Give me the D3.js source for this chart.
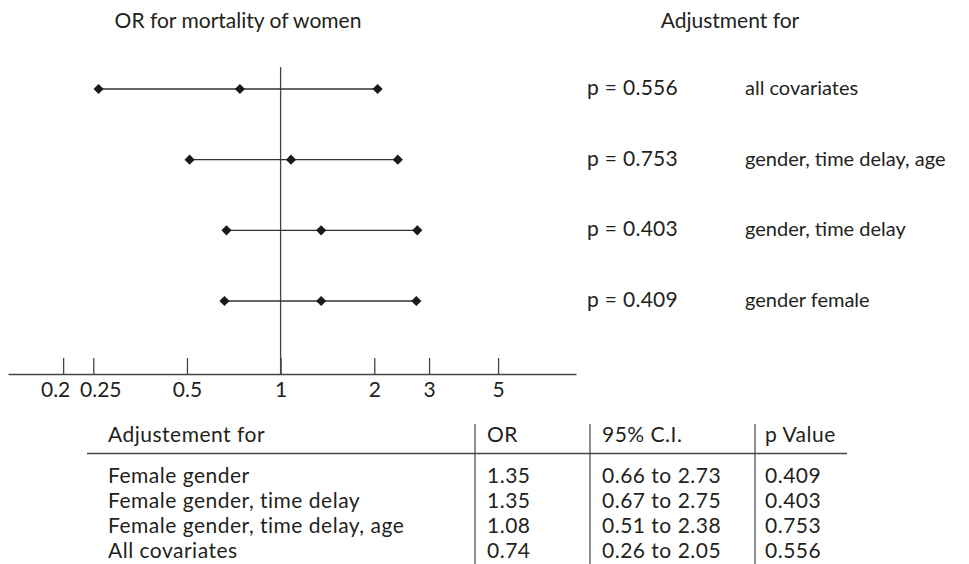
<!DOCTYPE html>
<html>
<head>
<meta charset="utf-8">
<script src="https://cdn.jsdelivr.net/npm/d3@7"></script>
<style>
  body { margin: 0; background: #fff; }
  svg { display: block; font-family: Lato, "Open Sans", sans-serif; }
  text { fill: #231f20; }
</style>
</head>
<body>
<svg id="chart" width="969" height="564"></svg>
<script>
// rows in table order (bottom to top in the plot)
const tableLabels = [
  "Female gender",
  "Female gender, time delay",
  "Female gender, time delay, age",
  "All covariates",
];
const plotLabels = [
  "gender female",
  "gender, time delay",
  "gender, time delay, age",
  "all covariates",
];
const orValues = [1.35, 1.35, 1.08, 0.74];
const ciLow = [0.66, 0.67, 0.51, 0.26];
const ciHigh = [2.73, 2.75, 2.38, 2.05];
const pValues = ["0.409", "0.403", "0.753", "0.556"];
const ciText = ["0.66 to 2.73", "0.67 to 2.75", "0.51 to 2.38", "0.26 to 2.05"];
const tickValues = [0.2, 0.25, 0.5, 1, 2, 3, 5];
const tickLabels = ["0.2", "0.25", "0.5", "1", "2", "3", "5"];
const xDomain = [0.133, 8.9];
const tableHeaders = ["Adjustement for", "OR", "95% C.I.", "p Value"];

const rows = tableLabels.map((d, i) => ({
  label: d,
  plotLabel: plotLabels[i],
  or: orValues[i],
  lo: ciLow[i],
  hi: ciHigh[i],
  p: pValues[i],
  ci: ciText[i],
}));

const svg = d3.select("#chart");
const axisY = 374;

const x = d3.scaleLog().domain(xDomain).range([8, 576]);
// top row is the last table row
const y = d3
  .scalePoint()
  .domain(rows.map((d) => d.label).reverse())
  .range([89, 301]);

// titles
svg.append("text")
  .attr("x", 238).attr("y", 28)
  .attr("text-anchor", "middle")
  .attr("font-size", 21)
  .text("OR for mortality of women");

svg.append("text")
  .attr("x", 730).attr("y", 28)
  .attr("text-anchor", "middle")
  .attr("font-size", 21)
  .text("Adjustment for");

// axis
const xAxis = d3.axisBottom(x)
  .tickValues(tickValues)
  .tickFormat((d, i) => tickLabels[i])
  .tickSizeOuter(0);

// small nudges so the crowded low labels do not collide
const labelNudge = { 0.2: -8, 0.25: 7 };

svg.append("g")
  .attr("class", "xAxis")
  .attr("transform", `translate(0, ${axisY})`)
  .call(xAxis)
  .call((g) => {
    g.select(".domain").attr("stroke", "#444").attr("stroke-width", 1.3);
    g.selectAll(".tick > line")
      .attr("y1", 0).attr("y2", -16)
      .attr("stroke", "#444").attr("stroke-width", 1.3);
    g.selectAll(".tick > text")
      .attr("y", 23).attr("dy", 0)
      .attr("dx", (d) => labelNudge[d] || 0)
      .attr("font-size", 21)
      .attr("font-family", "Lato, sans-serif")
      .attr("fill", "#231f20");
  });

// reference line at OR = 1
svg.append("line")
  .attr("x1", x(1)).attr("x2", x(1))
  .attr("y1", 67).attr("y2", axisY)
  .attr("stroke", "#444").attr("stroke-width", 1.3);

// CI lines
svg.append("g")
  .selectAll("line")
  .data(rows)
  .join("line")
  .attr("x1", (d) => x(d.lo))
  .attr("x2", (d) => x(d.hi))
  .attr("y1", (d) => y(d.label))
  .attr("y2", (d) => y(d.label))
  .attr("stroke", "#333")
  .attr("stroke-width", 1.3);

// diamond markers
const diamond = d3.symbol(d3.symbolSquare, 52);
const marks = rows.flatMap((d) => [d.lo, d.or, d.hi].map((v) => ({ v, row: d.label })));
svg.append("g")
  .selectAll("path")
  .data(marks)
  .join("path")
  .attr("d", diamond)
  .attr("transform", (d) => `translate(${x(d.v)}, ${y(d.row)}) rotate(45)`)
  .attr("fill", "#1a1a1a");

// right-hand labels
const right = svg.append("g");
right.selectAll(".pLabel")
  .data(rows)
  .join("text")
  .attr("class", "pLabel")
  .attr("x", 587)
  .attr("y", (d) => y(d.label) + 6)
  .attr("font-size", 21)
  .attr("letter-spacing", 0.3)
  .text((d) => `p = ${d.p}`);

right.selectAll(".adjLabel")
  .data(rows)
  .join("text")
  .attr("class", "adjLabel")
  .attr("x", 745)
  .attr("y", (d) => y(d.label) + 6)
  .attr("font-size", 20)
  .text((d) => d.plotLabel);

// table
const colX = [108, 487, 602, 765];
const sepX = [475, 590, 755];
const table = svg.append("g").attr("class", "table");

table.selectAll(".sep")
  .data(sepX)
  .join("line")
  .attr("class", "sep")
  .attr("x1", (d) => d).attr("x2", (d) => d)
  .attr("y1", 424).attr("y2", 564)
  .attr("stroke", "#444").attr("stroke-width", 1.2);

table.append("line")
  .attr("x1", 87).attr("x2", 847)
  .attr("y1", 453.5).attr("y2", 453.5)
  .attr("stroke", "#444").attr("stroke-width", 1.3);

table.selectAll(".head")
  .data(tableHeaders)
  .join("text")
  .attr("class", "head")
  .attr("x", (d, i) => colX[i])
  .attr("y", 442)
  .attr("font-size", 21)
  .attr("letter-spacing", 0.5)
  .text((d) => d);

const rowY = d3.scalePoint().domain(rows.map((d) => d.label)).range([483, 558]);
const cells = (d) => [d.label, d3.format(".2f")(d.or), d.ci, d.p];

table.selectAll(".row")
  .data(rows)
  .join("g")
  .attr("class", "row")
  .attr("transform", (d) => `translate(0, ${rowY(d.label)})`)
  .selectAll("text")
  .data(cells)
  .join("text")
  .attr("x", (d, i) => colX[i])
  .attr("font-size", 21)
  .attr("letter-spacing", 0.5)
  .text((d) => d);
</script>
</body>
</html>
